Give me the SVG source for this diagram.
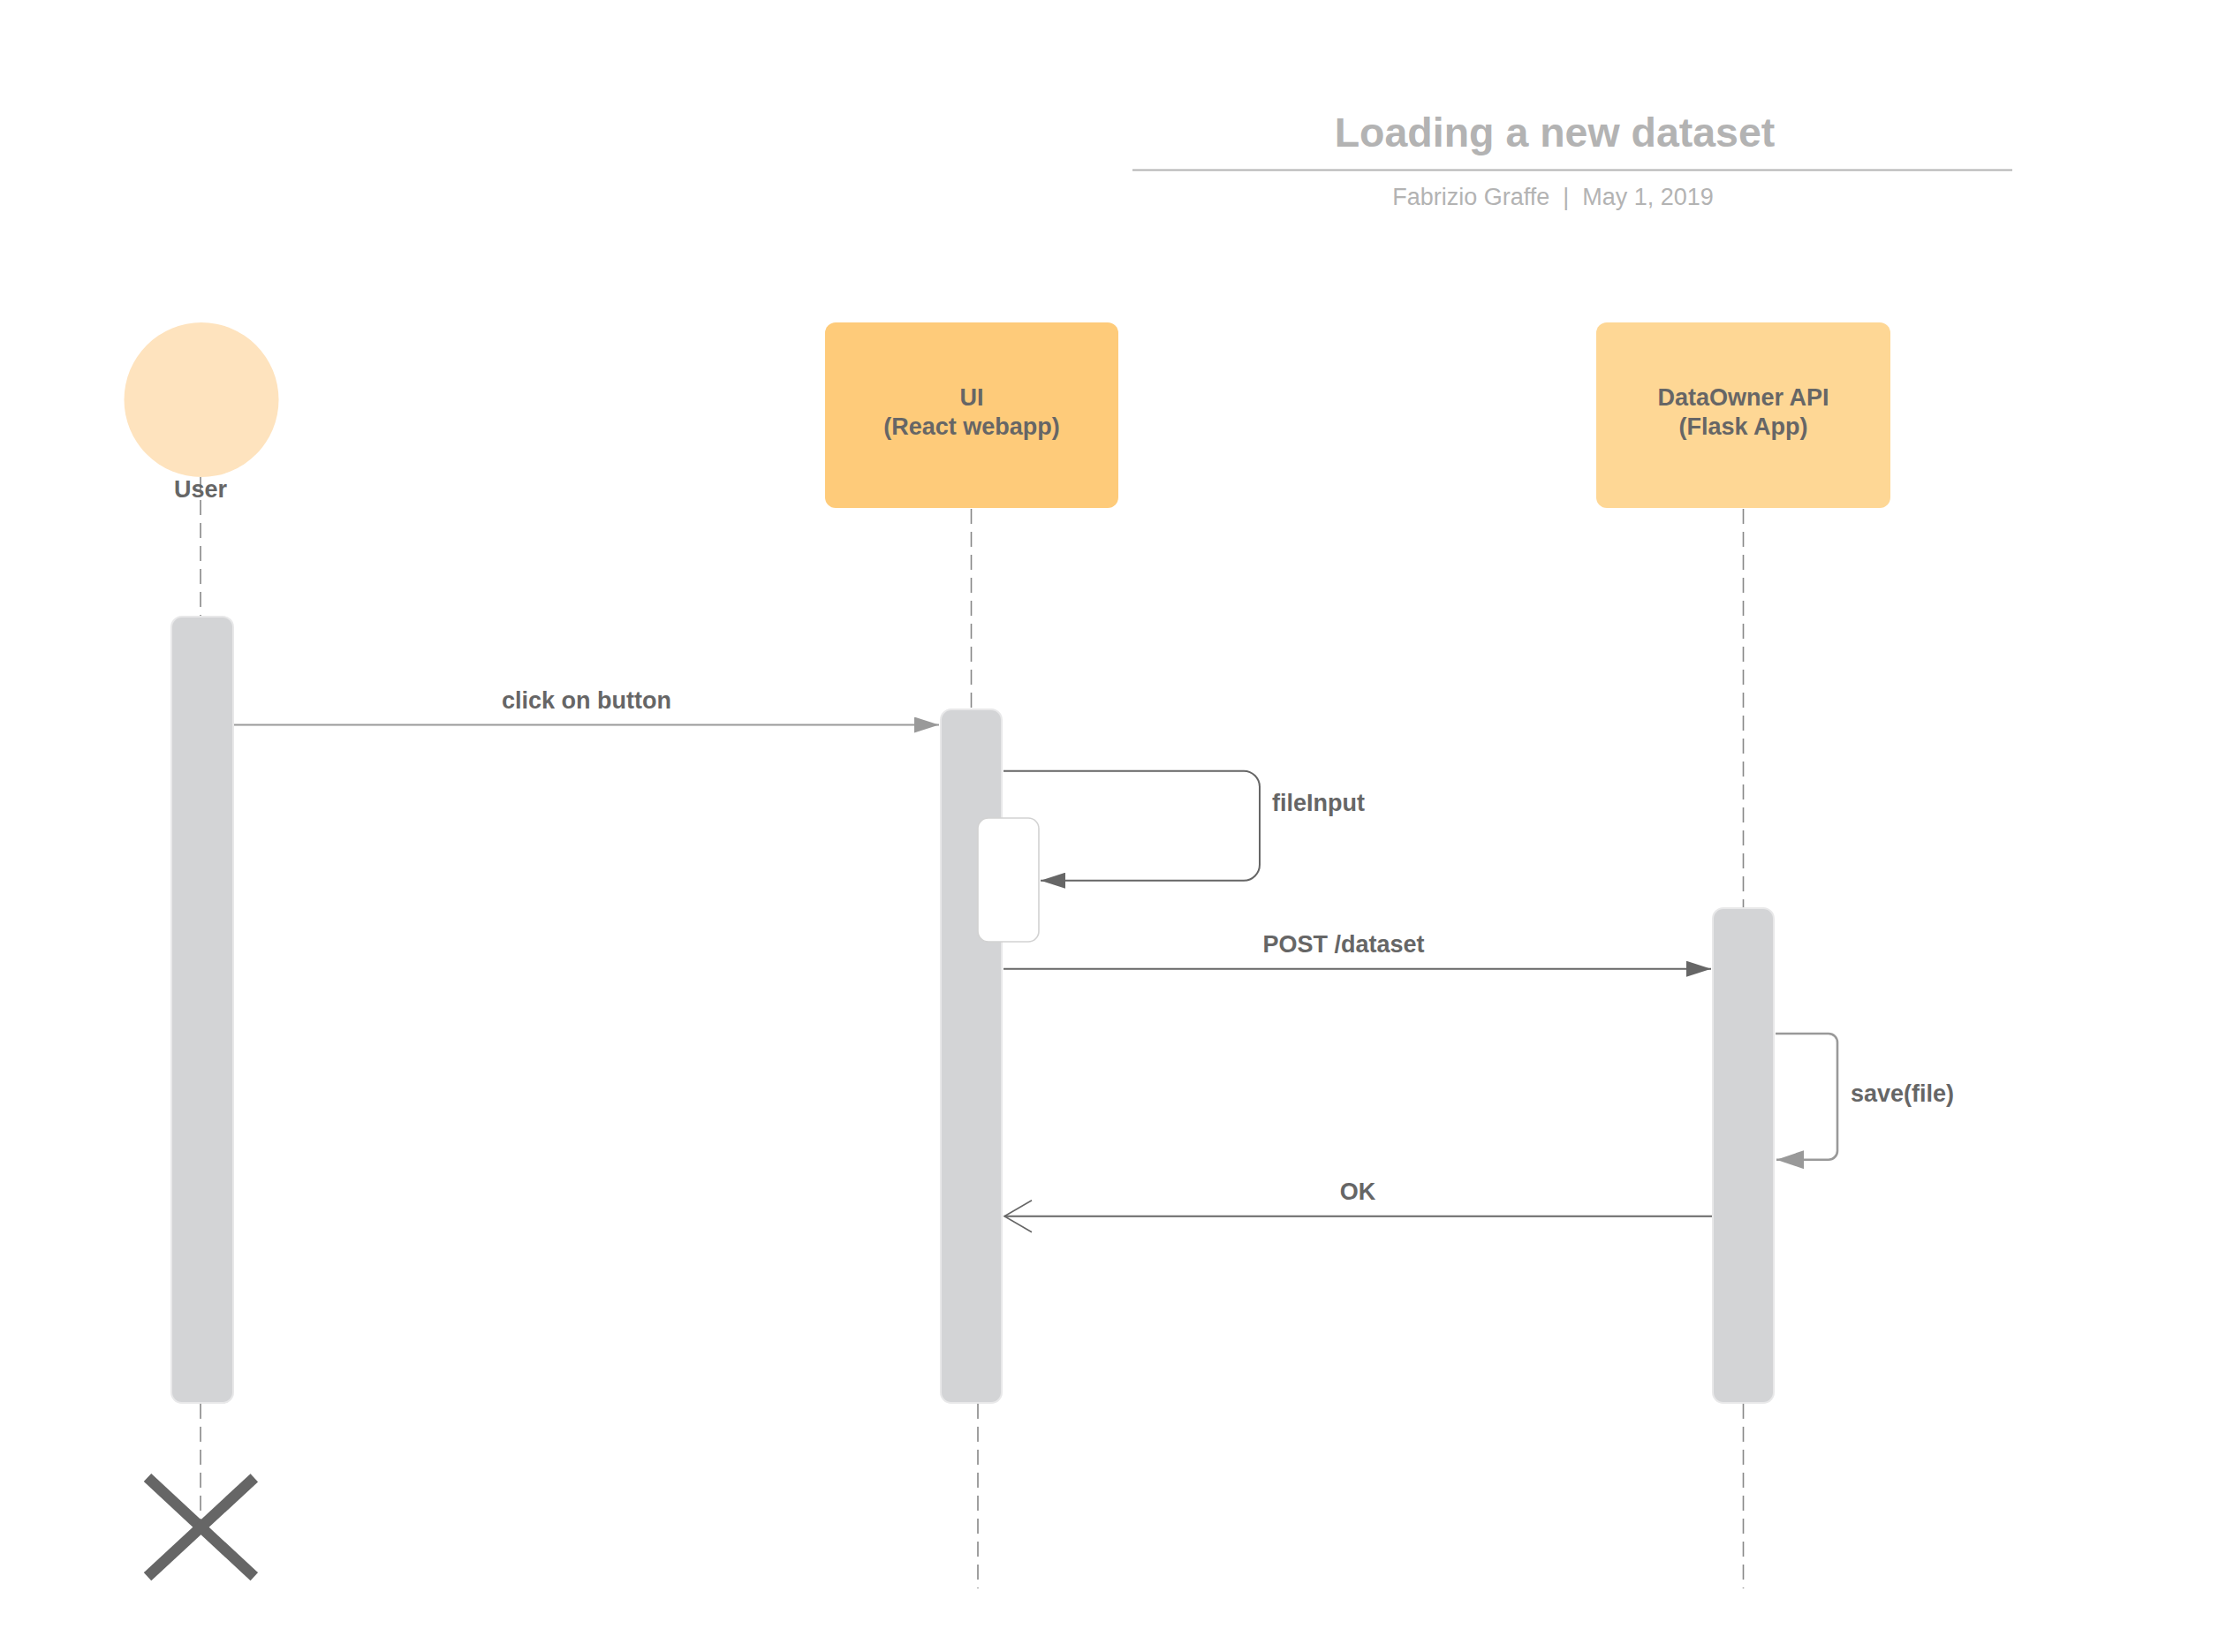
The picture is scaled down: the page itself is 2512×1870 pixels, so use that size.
<svg xmlns="http://www.w3.org/2000/svg" width="2512" height="1870" viewBox="0 0 2512 1870">
  <style>
    text { font-family: "Liberation Sans", Arial, sans-serif; }
    .title { font-size: 46.5px; font-weight: bold; fill: #b3b3b3; text-anchor: middle; }
    .subtitle { font-size: 27px; fill: #b3b3b3; text-anchor: middle; white-space: pre; }
    .label { font-size: 27px; font-weight: bold; fill: #666666; }
    .mid { text-anchor: middle; }
    .lifeline { stroke: #888888; stroke-width: 1.6; stroke-dasharray: 17 9; fill: none; }
    .activation { fill: #d3d4d6; stroke: #e8e8e9; stroke-width: 2; }
    .msg-light { stroke: #999999; stroke-width: 2; fill: none; }
    .msg-dark { stroke: #666666; stroke-width: 2; fill: none; }
  </style>
  <defs>
    <marker id="arrowLight" markerUnits="userSpaceOnUse" markerWidth="28" markerHeight="18" refX="28" refY="9" orient="auto">
      <path d="M0,0 L28,9 L0,18 z" fill="#999999"/>
    </marker>
    <marker id="arrowDark" markerUnits="userSpaceOnUse" markerWidth="28" markerHeight="18" refX="28" refY="9" orient="auto">
      <path d="M0,0 L28,9 L0,18 z" fill="#666666"/>
    </marker>
    <marker id="arrowLightBig" markerUnits="userSpaceOnUse" markerWidth="31" markerHeight="21" refX="31" refY="10.5" orient="auto">
      <path d="M0,0 L31,10.5 L0,21 z" fill="#999999"/>
    </marker>
    <marker id="arrowOpen" markerUnits="userSpaceOnUse" markerWidth="36" markerHeight="40" refX="32" refY="20" orient="auto" overflow="visible">
      <path d="M1,2 L32,20 L1,38" fill="none" stroke="#666666" stroke-width="1.6"/>
    </marker>
  </defs>

  <rect width="2512" height="1870" fill="#ffffff"/>

  <!-- Header -->
  <g id="header">
    <text class="title" x="1760" y="166">Loading a new dataset</text>
    <line x1="1282" y1="192.5" x2="2278" y2="192.5" stroke="#b3b3b3" stroke-width="2"/>
    <text class="subtitle" x="1758" y="231.5">Fabrizio Graffe  |  May 1, 2019</text>
  </g>

  <!-- Lifelines -->
  <g id="lifelines">
    <line class="lifeline" x1="227" y1="540" x2="227" y2="698"/>
    <line class="lifeline" x1="227" y1="1589" x2="227" y2="1720"/>
    <line class="lifeline" x1="1099.5" y1="576" x2="1099.5" y2="803"/>
    <line class="lifeline" x1="1107" y1="1589" x2="1107" y2="1798"/>
    <line class="lifeline" x1="1973.5" y1="576" x2="1973.5" y2="1028"/>
    <line class="lifeline" x1="1973.5" y1="1589" x2="1973.5" y2="1798"/>
  </g>

  <!-- Participants -->
  <g id="user">
    <circle cx="228" cy="452.5" r="87.5" fill="#fee3be"/>
    <text class="label mid" x="227" y="562.5">User</text>
  </g>
  <g id="ui">
    <rect x="934" y="365" width="332" height="210" rx="12" fill="#fecb7a"/>
    <text class="label mid" x="1100" y="459">UI</text>
    <text class="label mid" x="1100" y="491.5">(React webapp)</text>
  </g>
  <g id="dataowner-api">
    <rect x="1807" y="365" width="333" height="210" rx="12" fill="#fed795"/>
    <text class="label mid" x="1973.5" y="459">DataOwner API</text>
    <text class="label mid" x="1973.5" y="491.5">(Flask App)</text>
  </g>

  <!-- Activation bars -->
  <g id="activations">
    <rect id="user-activation" class="activation" x="194" y="698" width="70" height="890" rx="12"/>
    <rect id="ui-activation" class="activation" x="1065" y="803" width="69" height="785" rx="12"/>
    <rect id="api-activation" class="activation" x="1939" y="1028" width="69" height="560" rx="12"/>
    <rect id="ui-nested-activation" x="1107" y="926" width="69" height="140" rx="12" fill="#ffffff" stroke="#d2d2d2" stroke-width="1.6"/>
  </g>

  <!-- Destruction mark -->
  <g id="user-destroy" stroke="#666666" stroke-width="12.5">
    <line x1="167" y1="1672.5" x2="287.8" y2="1784.7"/>
    <line x1="287.8" y1="1672.8" x2="167" y2="1784.7"/>
  </g>

  <!-- Messages -->
  <g id="connectors">
    <line class="msg-light" x1="265" y1="820.5" x2="1063" y2="820.5" marker-end="url(#arrowLight)"/>
    <path class="msg-dark" d="M1136,872.7 H1408 A18,18 0 0 1 1426,890.7 V978.7 A18,18 0 0 1 1408,996.7 H1178" marker-end="url(#arrowDark)"/>
    <line class="msg-dark" x1="1136" y1="1096.7" x2="1937" y2="1096.7" marker-end="url(#arrowDark)"/>
    <path d="M2010,1170 H2070 A10,10 0 0 1 2080,1180 V1302.7 A10,10 0 0 1 2070,1312.7 H2011" fill="none" stroke="#999999" stroke-width="2.6" marker-end="url(#arrowLightBig)"/>
    <line class="msg-dark" x1="1938" y1="1376.7" x2="1137" y2="1376.7" marker-end="url(#arrowOpen)"/>
  </g>

  <!-- Message labels -->
  <g id="message-labels">
    <text class="label mid" x="664" y="801.7">click on button</text>
    <text class="label" x="1440" y="918">fileInput</text>
    <text class="label mid" x="1521" y="1078">POST /dataset</text>
    <text class="label" x="2095" y="1246.7">save(file)</text>
    <text class="label mid" x="1537" y="1358">OK</text>
  </g>
</svg>
